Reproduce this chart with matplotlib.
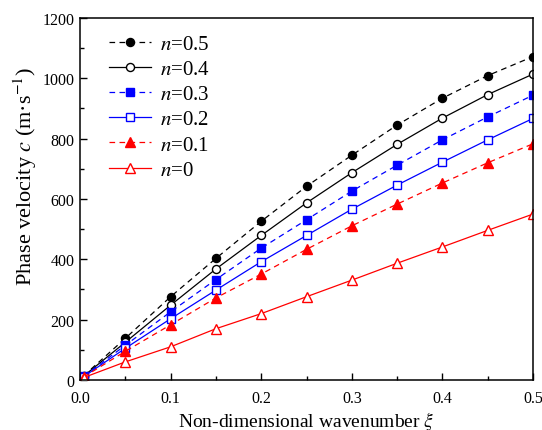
import numpy as np
import matplotlib
matplotlib.use('Agg')
import matplotlib.pyplot as plt
from matplotlib.ticker import MultipleLocator, FormatStrFormatter

plt.rcParams['font.family'] = ['Liberation Serif', 'DejaVu Serif']
plt.rcParams['mathtext.fontset'] = 'stix'

xi = [0.004, 0.05, 0.1, 0.15, 0.2, 0.25, 0.3, 0.35, 0.4, 0.45, 0.5]

c_05 = [14, 138, 276, 403, 526, 642, 745, 845, 934, 1009, 1072]
c_04 = [13, 125, 248, 368, 479, 587, 687, 781, 868, 946, 1014]
c_03 = [12, 115, 226, 333, 437, 531, 626, 712, 796, 872, 944]
c_02 = [11, 105, 203, 298, 392, 479, 566, 646, 722, 796, 867]
c_01 = [10, 95, 183, 272, 351, 433, 511, 583, 653, 720, 783]
c_00 = [8, 60, 110, 170, 220, 276, 331, 387, 441, 496, 550]

labels = ['$n$=0.5', '$n$=0.4', '$n$=0.3', '$n$=0.2', '$n$=0.1', '$n$=0']

fig = plt.figure(figsize=(5.42, 4.31), dpi=100)
ax = fig.add_axes([0.1476, 0.116, 0.8358, 0.84])

ms = 5.8
dash = (4.5, 3.5)
lw = 0.9
l1, = ax.plot(xi, c_05, 'k--', marker='o', ms=ms, mfc='k', mec='k', lw=lw, label=labels[0])
ax.plot(xi, c_04, 'k-', marker='o', ms=ms, mfc='w', mec='k', lw=lw, label=labels[1])
l3, = ax.plot(xi, c_03, '--', color='b', marker='s', ms=ms - 0.4, mfc='b', mec='b', lw=lw, label=labels[2])
ax.plot(xi, c_02, '-', color='b', marker='s', ms=ms - 0.4, mfc='w', mec='b', lw=lw, label=labels[3])
l5, = ax.plot(xi, c_01, '--', color='r', marker='^', ms=ms + 0.8, mfc='r', mec='r', lw=lw, label=labels[4])
ax.plot(xi, c_00, '-', color='r', marker='^', ms=ms + 0.8, mfc='w', mec='r', lw=lw, label=labels[5])
for l in (l1, l3, l5):
    l.set_dashes(dash)

ax.set_xlim(0, 0.5)
ax.set_ylim(0, 1200)
ax.xaxis.set_major_locator(MultipleLocator(0.1))
ax.xaxis.set_minor_locator(MultipleLocator(0.05))
ax.yaxis.set_major_locator(MultipleLocator(200))
ax.yaxis.set_minor_locator(MultipleLocator(100))
ax.xaxis.set_major_formatter(FormatStrFormatter('%.1f'))
ax.tick_params(which='both', direction='in', top=False, right=False, labelsize=11.5)
ax.tick_params(which='major', length=5, width=1)
ax.tick_params(which='minor', length=3, width=1)
ax.tick_params(axis='x', pad=7)
ax.tick_params(axis='y', pad=4)
for s in ax.spines.values():
    s.set_linewidth(1.1)

ax.set_xlabel(r'Non-dimensional wavenumber $\xi$', fontsize=14, labelpad=2)
ax.set_ylabel('Phase velocity $c$ (m·s$^{-1}$)', fontsize=16)
ax.yaxis.set_label_coords(-0.09, 0.565)

leg = ax.legend(loc='upper left', bbox_to_anchor=(0.045, 0.978), frameon=False,
                fontsize=15, handlelength=2.05, handletextpad=0.4,
                labelspacing=0.27, borderaxespad=0)

fig.savefig('out.png', dpi=100)
